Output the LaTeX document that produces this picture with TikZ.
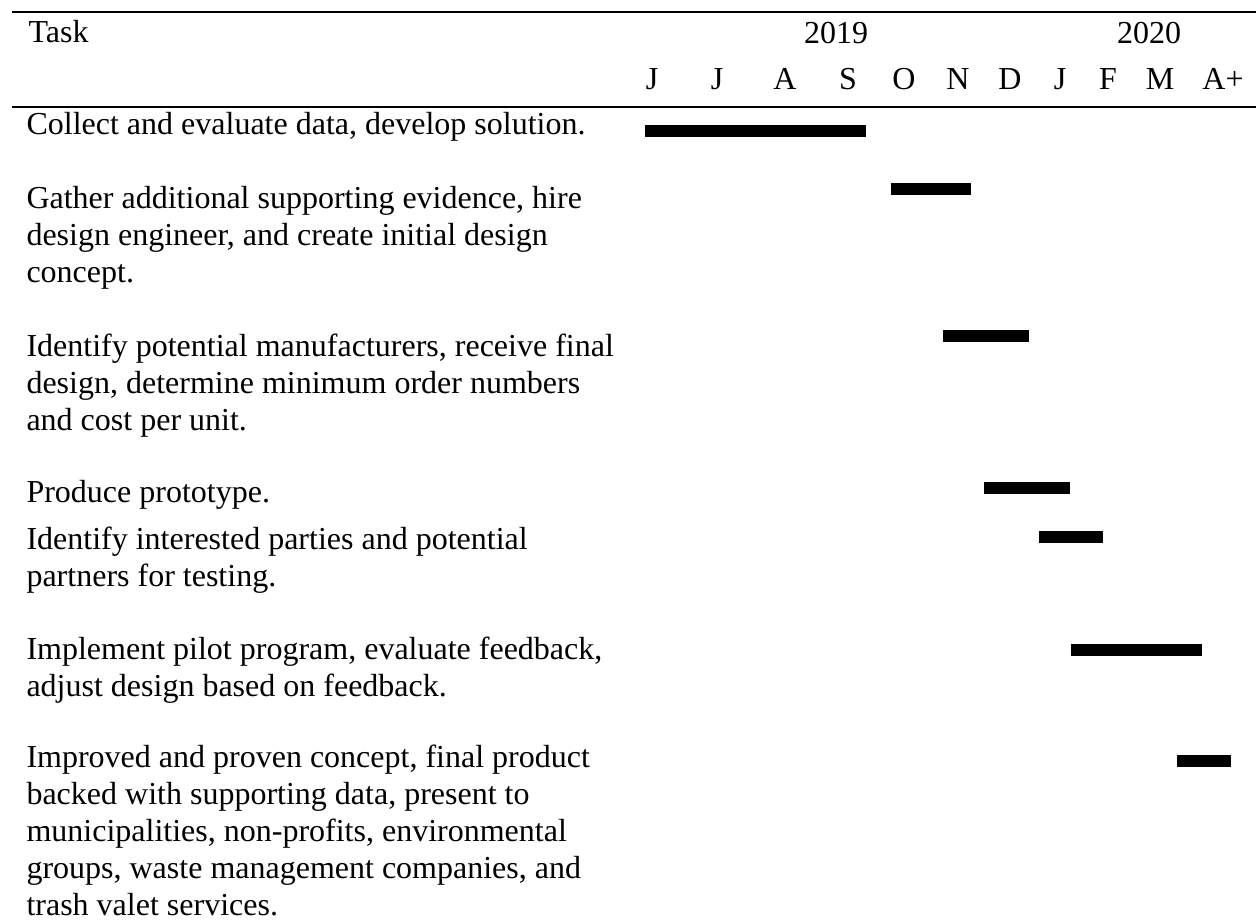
\documentclass[tikz,border=0pt]{standalone}
\usepackage{fontspec}
\setmainfont{Liberation Serif}
\usepackage{tikz}

\tikzset{
  task/.style={anchor=base west, inner sep=0pt, align=left, font=\fontsize{12pt}{13.9pt}\selectfont},
  month/.style={anchor=base, inner sep=0pt, font=\fontsize{12pt}{13.9pt}\selectfont},
  bar/.style={fill=black},
  rule/.style={line width=0.5pt}
}

\begin{document}
\begin{tikzpicture}[x=0.375pt,y=-0.375pt]
\useasboundingbox (0,0) rectangle (1256,921);
\draw[rule] (12,12) -- (1256,12);
\draw[rule] (12,107) -- (1256,107);
\node[task] (head) at (28,43) {Task};
\node[month] (y19) at (836,44) {2019};
\node[month] (y20) at (1149,44) {2020};
\foreach \m/\x [count=\i] in {J/652,J/717,A/785,S/848,O/904,N/958,D/1010,J/1060,F/1108,M/1160,A+/1223}
  \node[month] (m\i) at (\x,90) {\m};
% base of a wrapped task is its last line
\node[task] (t1) at (26,135) {Collect and evaluate data, develop solution.};
\node[task] (t2) at (26,283) {Gather additional supporting evidence, hire\\design engineer, and create initial design\\concept.};
\node[task] (t3) at (26,431) {Identify potential manufacturers, receive final\\design, determine minimum order numbers\\and cost per unit.};
\node[task] (t4) at (26,503) {Produce prototype.};
\node[task] (t5) at (26,587) {Identify interested parties and potential\\partners for testing.};
\node[task] (t6) at (26,697) {Implement pilot program, evaluate feedback,\\adjust design based on feedback.};
\node[task] (t7) at (26,916) {Improved and proven concept, final product\\backed with supporting data, present to\\municipalities, non-profits, environmental\\groups, waste management companies, and\\trash valet services.};
\fill[bar] (645,125) rectangle (866,137);
\fill[bar] (891,183) rectangle (971,195);
\fill[bar] (943,330) rectangle (1029,342);
\fill[bar] (984,482) rectangle (1070,494);
\fill[bar] (1039,531) rectangle (1103,543);
\fill[bar] (1071,644) rectangle (1202,656);
\fill[bar] (1177,755) rectangle (1231,767);
\end{tikzpicture}
\end{document}
